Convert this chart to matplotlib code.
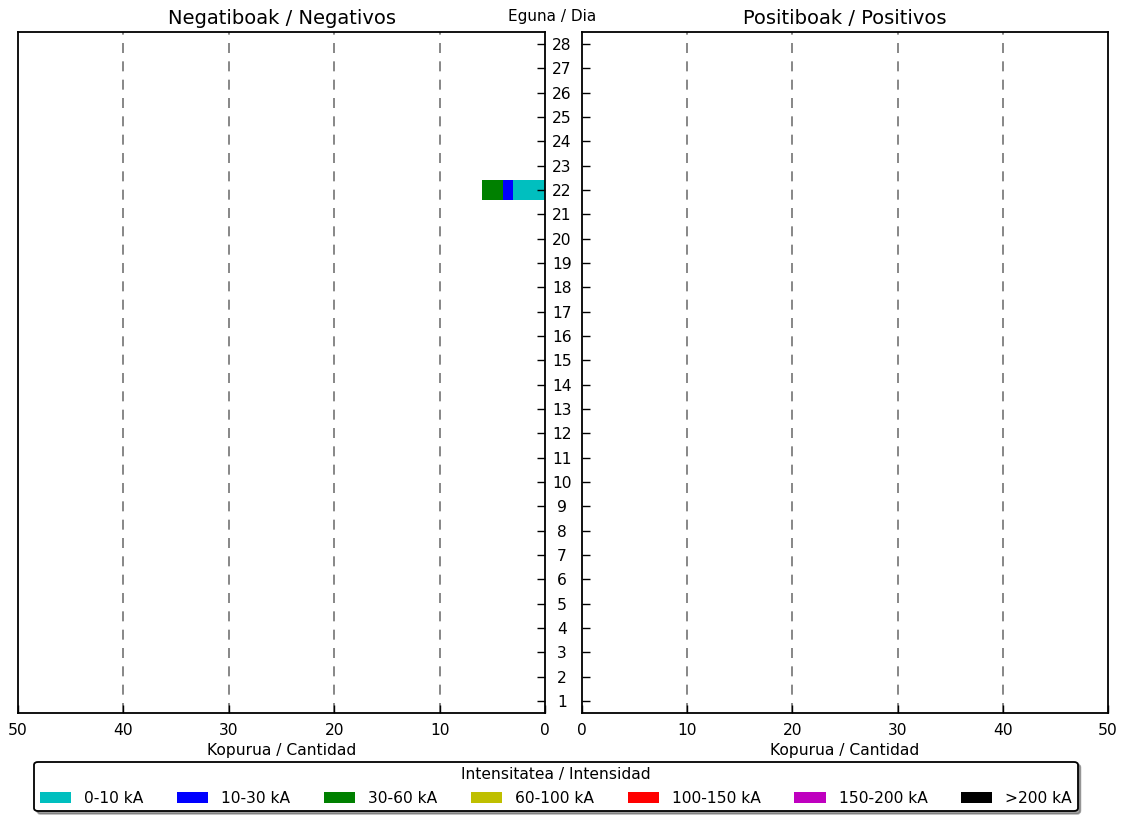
import numpy as np
import matplotlib
matplotlib.use("Agg")
from matplotlib import pyplot as plt
from matplotlib.patches import Patch

# Data: days of the month and lightning counts per intensity class
days = list(range(1, 29))
classes = ["0-10 kA", "10-30 kA", "30-60 kA", "60-100 kA", "100-150 kA", "150-200 kA", ">200 kA"]
class_colors = [(0, 0.75, 0.75), (0, 0, 1), (0, 0.5, 0), (0.75, 0.75, 0), (1, 0, 0), (0.75, 0, 0.75), (0, 0, 0)]

# negatives: only day 22 has strokes
neg_0_10 = [0] * 21 + [3] + [0] * 6
neg_10_30 = [0] * 21 + [1] + [0] * 6
neg_30_60 = [0] * 21 + [2] + [0] * 6
neg_60_100 = [0] * 28
neg_100_150 = [0] * 28
neg_150_200 = [0] * 28
neg_200 = [0] * 28
negatives = [neg_0_10, neg_10_30, neg_30_60, neg_60_100, neg_100_150, neg_150_200, neg_200]

pos_0_10 = [0] * 28
pos_10_30 = [0] * 28
pos_30_60 = [0] * 28
pos_60_100 = [0] * 28
pos_100_150 = [0] * 28
pos_150_200 = [0] * 28
pos_200 = [0] * 28
positives = [pos_0_10, pos_10_30, pos_30_60, pos_60_100, pos_100_150, pos_150_200, pos_200]

xticks = [0, 10, 20, 30, 40, 50]

fig = plt.figure(figsize=(11.25, 8.17), dpi=100)
axL = fig.add_axes([18 / 1125, 1 - 713 / 817, (545 - 18) / 1125, (713 - 32) / 817])
axR = fig.add_axes([582 / 1125, 1 - 713 / 817, (1108 - 582) / 1125, (713 - 32) / 817])


def stacked(ax, series):
    left = np.zeros(len(days))
    for vals, col in zip(series, class_colors):
        vals = np.array(vals)
        ax.barh(days, vals, left=left, height=0.8, color=col, edgecolor="none", align="center")
        left = left + vals


stacked(axL, negatives)
stacked(axR, positives)

axL.set_xlim(50, 0)
axR.set_xlim(0, 50)
axL.yaxis.set_ticks_position("right")
axR.yaxis.set_ticks_position("left")

for ax in (axL, axR):
    ax.set_ylim(0.5, 28.5)
    ax.set_yticks(days)
    ax.set_xticks(xticks)
    for x in xticks[1:-1]:
        ax.axvline(x, color="0.45", linestyle=(0, (6, 5)), linewidth=1.2, zorder=0)
    for s in ax.spines.values():
        s.set_linewidth(1.3)
    ax.tick_params(axis="both", direction="in", length=6, width=1, labelsize=11.2)
    ax.tick_params(axis="x", pad=7)
    ax.set_xlabel("Kopurua / Cantidad", fontsize=11.2, labelpad=4)

axL.tick_params(axis="y", labelright=False, labelleft=False)
axR.tick_params(axis="y", labelleft=True, pad=14.4)
for lab in axR.get_yticklabels():
    lab.set_horizontalalignment("center")

axL.set_title("Negatiboak / Negativos", fontsize=14, pad=6)
axR.set_title("Positiboak / Positivos", fontsize=14, pad=6)
fig.text(552 / 1125, 1 - 17 / 817, "Eguna / Dia", ha="center", va="center", fontsize=11)

handles = [Patch(facecolor=c, edgecolor="none") for c in class_colors]
leg = fig.legend(handles, classes, ncol=7, loc="lower center",
                 bbox_to_anchor=(556 / 1125, 1 - 811 / 817),
                 title="Intensitatea / Intensidad", fontsize=11.2, title_fontsize=11.2,
                 shadow=True, fancybox=True, frameon=True, borderaxespad=0,
                 handlelength=2.0, handleheight=0.7, handletextpad=0.85, borderpad=0.35,
                 columnspacing=2.15, labelspacing=0.55)
leg.get_frame().set_edgecolor("black")
leg.get_frame().set_linewidth(1.3)

fig.savefig("out.png", dpi=100)
